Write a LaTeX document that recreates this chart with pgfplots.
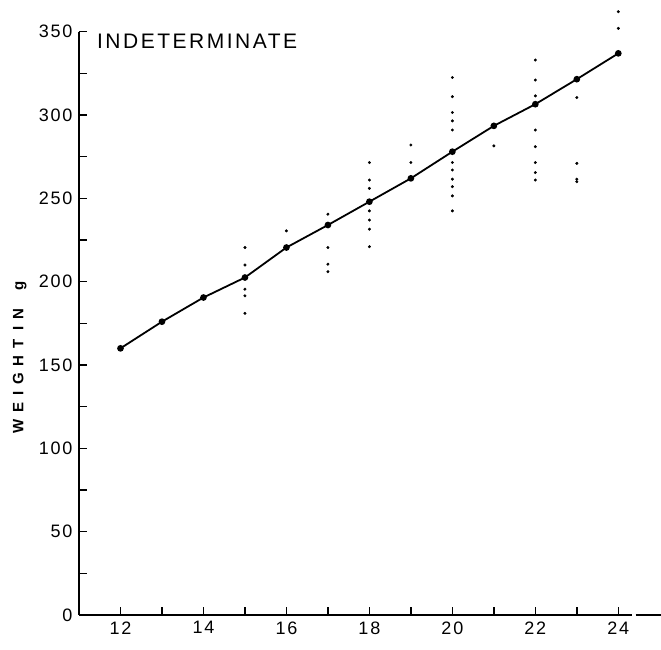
\documentclass[border=0pt]{standalone}
\usepackage{fontspec}
\setmainfont{Liberation Sans}
\newfontfamily\titlefont[LetterSpace=12]{Liberation Sans}
\newfontfamily\labelfont[LetterSpace=45]{Liberation Sans Bold}
\newfontfamily\tickfont[LetterSpace=10]{Liberation Sans}
\usepackage{pgfplots}
\pgfplotsset{compat=1.18}
\begin{document}
\begin{tikzpicture}
\begin{axis}[
  scale only axis, width=553pt, height=583.3pt,
  xmin=11, xmax=24.33, ymin=0, ymax=350,
  axis x line*=bottom, axis y line*=left,
  axis line style={line width=2pt, -},
  xtick={12,14,...,24}, minor xtick={13,15,...,23},
  ytick={0,50,...,350}, minor ytick={25,75,...,325},
  tick align=inside, major tick length=8pt, minor tick length=8pt,
  every tick/.style={line width=1.5pt, black},
  /pgf/number format/assume math mode=true,
  yticklabel style={font=\tickfont\fontsize{18}{18}\selectfont, xshift=-3pt},
  xticklabel style={font=\tickfont\fontsize{18}{18}\selectfont, yshift=-3pt},
  clip=false,
]
% fitted line with mean points
\addplot[black, line width=1.8pt, mark=*, mark size=2.4pt] coordinates {
 (12,160) (13,176) (14,190.5) (15,202.5) (16,220.5) (17,234) (18,248)
 (19,262) (20,278) (21,293.5) (22,306.5) (23,321.5) (24,337)
};
% individual observations
\addplot[only marks, black, mark=*, mark size=1.3pt] coordinates {
 (15,220.5) (15,210) (15,195.5) (15,191.5) (15,181)
 (16,230.5)
 (17,240.5) (17,220.5) (17,210.5) (17,206)
 (18,271.5) (18,261) (18,256) (18,242.5) (18,237) (18,231.5) (18,221)
 (19,282) (19,271.5)
 (20,322.5) (20,311) (20,301.5) (20,296.5) (20,291) (20,271.5) (20,267) (20,261.5) (20,257) (20,251.5) (20,242.5)
 (21,281.5)
 (22,333) (22,321) (22,311.5) (22,291) (22,281) (22,271.5) (22,265.5) (22,261)
 (23,310.5) (23,271) (23,261.5) (23,260)
 (24,362) (24,352)
};
% short extension of the x axis
\addplot[black, line width=2pt] coordinates {(24.42,0) (25.02,0)};
\node[anchor=north west, inner sep=0pt, font=\titlefont\fontsize{21}{21}\selectfont] at (axis cs:11.43,349) {INDETERMINATE};
\node[rotate=90, inner sep=0pt, font=\labelfont\fontsize{15}{15}\selectfont] at (rel axis cs:-0.107,0.442) {WEIGHT\hspace{9pt}IN\hspace{18pt}g};
\end{axis}
\pgfresetboundingbox
\path (-79pt,-35pt) rectangle (582pt,615pt);
\end{tikzpicture}
\end{document}
